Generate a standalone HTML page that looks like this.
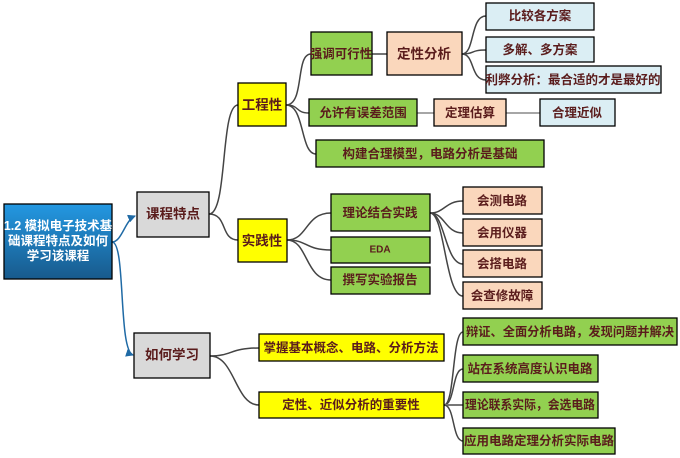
<!DOCTYPE html>
<html><head><meta charset="utf-8"><style>
html,body{margin:0;padding:0;background:#fff;width:680px;height:458px;overflow:hidden}
svg text{font-family:"Liberation Sans","Noto Sans CJK SC",sans-serif;font-weight:bold;font-size:12.5px;fill:#5a1c1c;text-anchor:middle;dominant-baseline:central}
</style></head><body>
<svg width="680" height="458" viewBox="0 0 680 458" xmlns="http://www.w3.org/2000/svg">
<defs>
<linearGradient id="g" x1="0" y1="0" x2="0" y2="1"><stop offset="0" stop-color="#2398e2"/><stop offset="1" stop-color="#185a8c"/></linearGradient>
<marker id="a" markerWidth="8" markerHeight="8" refX="7" refY="4" orient="auto" markerUnits="userSpaceOnUse"><path d="M0,0 L8,4 L0,8 z" fill="#1f6aa5"/></marker>
</defs>
<g fill="none" stroke="#444" stroke-width="1.5">
<path d="M209,214 C228,214 220,105 238,105"/>
<path d="M209,214 C228,214 220,240 238,240"/>
<path d="M286,105 C305,105 295,54 311,54"/>
<path d="M286,105 C300,105 295,113 309,113"/>
<path d="M286,105 C305,105 300,154 316,154"/>
<path d="M372,54 L387,54"/>
<path d="M462,54 C475,54 470,16 486,16"/>
<path d="M462,54 C475,54 470,50 486,50"/>
<path d="M462,54 C475,54 470,80 486,80"/>
<path d="M417,113 L434,113" stroke="#888"/>
<path d="M506,113 L540,113" stroke="#888"/>
<path d="M287,240 C308,240 305,213 331,213"/>
<path d="M287,240 C308,240 305,250 331,250"/>
<path d="M287,240 C308,240 305,280 331,280"/>
<path d="M430,213 C445,213 445,201 463,201"/>
<path d="M430,213 C445,213 445,233 463,233"/>
<path d="M430,213 C445,213 445,264 463,264"/>
<path d="M430,213 C445,213 445,296 463,296"/>
<path d="M210,356 C232,356 230,348 259,348"/>
<path d="M210,356 C235,356 235,405 259,405"/>
<path d="M444,405 C455,405 452,332 463,332"/>
<path d="M444,405 C455,405 452,369 463,369"/>
<path d="M444,405 L463,405" stroke="#777" stroke-width="2"/>
<path d="M444,405 C455,405 452,441 463,441"/>
</g>
<g fill="none" stroke="#1f6aa5" stroke-width="1.5">
<path d="M112,242 C122,242 125,220 135,216" marker-end="url(#a)"/>
<path d="M112,242 C126,242 118,350 133,355" marker-end="url(#a)"/>
</g>
<g stroke="#000" stroke-width="1.3">
<rect x="4" y="204" width="108" height="75" fill="url(#g)"/>
<rect x="137" y="192" width="72" height="45" fill="#d9d9d9"/>
<rect x="134" y="333" width="76" height="45" fill="#d9d9d9"/>
<rect x="238" y="83" width="48" height="43" fill="#ffff00"/>
<rect x="238" y="219" width="49" height="43" fill="#ffff00"/>
<rect x="311" y="32" width="61" height="43" fill="#92d050"/>
<rect x="387" y="32" width="75" height="43" fill="#fad7bc"/>
<rect x="486" y="3" width="108" height="27" fill="#dbeef4"/>
<rect x="486" y="37" width="108" height="25" fill="#dbeef4"/>
<rect x="486" y="66" width="175" height="27" fill="#dbeef4"/>
<rect x="309" y="99" width="108" height="27" fill="#92d050"/>
<rect x="434" y="99" width="72" height="27" fill="#fad7bc"/>
<rect x="540" y="99" width="75" height="27" fill="#dbeef4"/>
<rect x="316" y="140" width="228" height="27" fill="#92d050"/>
<rect x="331" y="194" width="99" height="37" fill="#92d050"/>
<rect x="331" y="237" width="99" height="26" fill="#92d050"/>
<rect x="331" y="267" width="99" height="27" fill="#92d050"/>
<rect x="463" y="187" width="79" height="27" fill="#fad7bc"/>
<rect x="463" y="219" width="79" height="27" fill="#fad7bc"/>
<rect x="463" y="250" width="79" height="27" fill="#fad7bc"/>
<rect x="463" y="282" width="79" height="27" fill="#fad7bc"/>
<rect x="259" y="334" width="185" height="27" fill="#ffff00"/>
<rect x="259" y="392" width="185" height="26" fill="#ffff00"/>
<rect x="463" y="318" width="214" height="27" fill="#92d050"/>
<rect x="463" y="355" width="135" height="27" fill="#92d050"/>
<rect x="463" y="392" width="135" height="26" fill="#92d050"/>
<rect x="463" y="428" width="152" height="26" fill="#92d050"/>
</g>
<g>
<text x="58" y="226" style="fill:#fff">1.2 模拟电子技术基</text>
<text x="58" y="241" style="fill:#fff">础课程特点及如何</text>
<text x="58" y="256" style="fill:#fff">学习该课程</text>
<text x="173" y="214" style="font-size:13.5px">课程特点</text>
<text x="172" y="355" style="font-size:13.5px">如何学习</text>
<text x="262" y="105" style="font-size:13.5px">工程性</text>
<text x="262" y="241" style="font-size:13.5px">实践性</text>
<text x="341" y="54">强调可行性</text>
<text x="424" y="54" style="font-size:13.5px">定性分析</text>
<text x="540" y="16">比较各方案</text>
<text x="540" y="50">多解、多方案</text>
<text x="573" y="80">利弊分析：最合适的才是最好的</text>
<text x="363" y="113">允许有误差范围</text>
<text x="470" y="113">定理估算</text>
<text x="577" y="113">合理近似</text>
<text x="430" y="154">构建合理模型，电路分析是基础</text>
<text x="380" y="213">理论结合实践</text>
<text x="380" y="250" style="font-size:10px">EDA</text>
<text x="380" y="280">撰写实验报告</text>
<text x="502" y="201">会测电路</text>
<text x="502" y="233">会用仪器</text>
<text x="502" y="264">会搭电路</text>
<text x="502" y="296">会查修故障</text>
<text x="351" y="348">掌握基本概念、电路、分析方法</text>
<text x="351" y="405">定性、近似分析的重要性</text>
<text x="570" y="332" textLength="208" lengthAdjust="spacingAndGlyphs">辩证、全面分析电路，发现问题并解决</text>
<text x="530" y="369">站在系统高度认识电路</text>
<text x="530" y="405" textLength="130" lengthAdjust="spacingAndGlyphs">理论联系实际，会选电路</text>
<text x="539" y="441">应用电路定理分析实际电路</text>
</g>
</svg>
</body></html>
